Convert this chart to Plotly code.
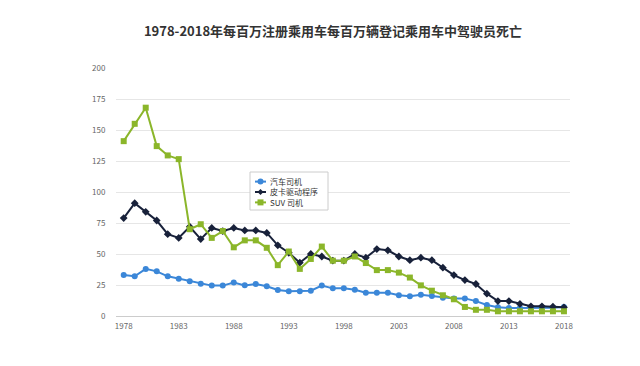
import plotly.graph_objects as go

years = list(range(1978, 2019))
car_drivers = [33, 32, 38, 36, 32, 30, 28, 26, 24.5, 24.5, 27, 24.7, 25.8, 24, 21, 20,
               20, 20.4, 24.5, 22.3, 22.3, 21.2, 18.8, 18.8, 18.8, 16.7, 15.9, 17.2, 16.1, 14.8,
               14.2, 14.2, 12, 8.9, 7, 6.5, 6.5, 6.7, 7, 6.7, 7.3]
pickup = [79, 91, 84, 77, 66, 63, 72, 62, 71, 68.5, 71, 69, 69, 67, 57, 51,
          43, 50, 48, 44.6, 44.6, 50, 47, 54, 53, 48, 45, 47, 45, 39,
          33, 29, 25.8, 18, 12, 12, 9.7, 7.8, 7.8, 7.5, 7]
suv = [141, 155, 168, 137, 129.5, 126.5, 70, 74, 63, 68.5, 55.4, 61, 61, 55, 41, 52,
       38, 46, 56, 44.6, 44.6, 48, 42.7, 37, 37, 35, 31, 24.7, 20.4, 16.7,
       13.5, 7.3, 5, 5, 3.8, 3.8, 3.8, 3.8, 3.8, 3.8, 3.8]
series_names = ["汽车司机", "皮卡驱动程序", "SUV 司机"]
series_colors = ["#3b87d8", "#18213a", "#8bb62a"]
tick_years = [1978, 1983, 1988, 1993, 1998, 2003, 2008, 2013, 2018]
y_ticks = [0, 25, 50, 75, 100, 125, 150, 175, 200]

L, R, T, B = 108, 78, 60, 58
W, H = 640, 366
PW, PH = W - L - R, H - T - B
OFF = 8  # page body offset


def px(x):
    return (x - OFF - L) / PW


def py(y):
    return (H - B + OFF - y) / PH


fig = go.Figure()
symbols = ["circle", "diamond", "square"]
for name, vals, col, sym in zip(series_names, [car_drivers, pickup, suv], series_colors, symbols):
    fig.add_trace(go.Scatter(x=years, y=vals, name=name, mode="lines+markers",
                             line=dict(color=col, width=2),
                             marker=dict(symbol=sym, size=6, color=col),
                             showlegend=False))

# compact legend box drawn as shapes + one multi-line text
LEG_FONT = 8
center_y = 192
line_gap = LEG_FONT * 1.3
shapes = [dict(type="rect", xref="paper", yref="paper", x0=px(250), x1=px(328),
               y0=py(210), y1=py(172), line=dict(color="#cccccc", width=1),
               fillcolor="white", layer="above")]
for i, col in enumerate(series_colors):
    yy = center_y + (i - 1) * line_gap
    shapes.append(dict(type="line", xref="paper", yref="paper", x0=px(255), x1=px(266),
                       y0=py(yy), y1=py(yy), line=dict(color=col, width=2), layer="above"))
    cx = 260.5
    if i == 0:
        shapes.append(dict(type="circle", xref="paper", yref="paper", x0=px(cx - 3), x1=px(cx + 3),
                           y0=py(yy + 3), y1=py(yy - 3), fillcolor=col, line=dict(width=0),
                           layer="above"))
    elif i == 1:
        path = (f"M {px(cx - 3)} {py(yy)} L {px(cx)} {py(yy - 3)} L {px(cx + 3)} {py(yy)} "
                f"L {px(cx)} {py(yy + 3)} Z")
        shapes.append(dict(type="path", xref="paper", yref="paper", path=path, fillcolor=col,
                           line=dict(width=0), layer="above"))
    else:
        shapes.append(dict(type="rect", xref="paper", yref="paper", x0=px(cx - 3), x1=px(cx + 3),
                           y0=py(yy + 3), y1=py(yy - 3), fillcolor=col, line=dict(width=0),
                           layer="above"))
annotations = [dict(xref="paper", yref="paper", x=px(269), y=py(center_y),
                    text="<br>".join(series_names), align="left",
                    xanchor="left", yanchor="middle", showarrow=False, borderpad=0,
                    font=dict(size=LEG_FONT, color="#333333"))]

fig.update_layout(
    width=W, height=H,
    margin=dict(l=L, r=R, t=T, b=B),
    paper_bgcolor="white", plot_bgcolor="white",
    font=dict(family="Noto Sans CJK SC, Roboto, sans-serif", color="#666666", size=8),
    title=dict(text="<b>1978-2018年每百万注册乘用车每百万辆登记乘用车中驾驶员死亡</b>",
               x=(333 - OFF) / W, xanchor="center", y=1 - (31 - OFF) / H, yanchor="middle",
               font=dict(size=13, color="#333333")),
    xaxis=dict(range=[1977.3, 2018.55], tickvals=tick_years, showgrid=False,
               showline=True, linecolor="#cccccc", linewidth=1, zeroline=False,
               ticks="outside", ticklen=2, tickcolor="rgba(0,0,0,0)",
               tickfont=dict(size=8, color="#666666")),
    yaxis=dict(range=[0, 200], tickvals=y_ticks, showgrid=True, gridcolor="#e6e6e6",
               gridwidth=1, zeroline=False, showline=False, ticks="outside", ticklen=8,
               tickcolor="rgba(0,0,0,0)",
               tickfont=dict(size=8, color="#666666")),
    shapes=shapes,
    annotations=annotations,
    showlegend=False,
)

fig.write_html("out.html")
